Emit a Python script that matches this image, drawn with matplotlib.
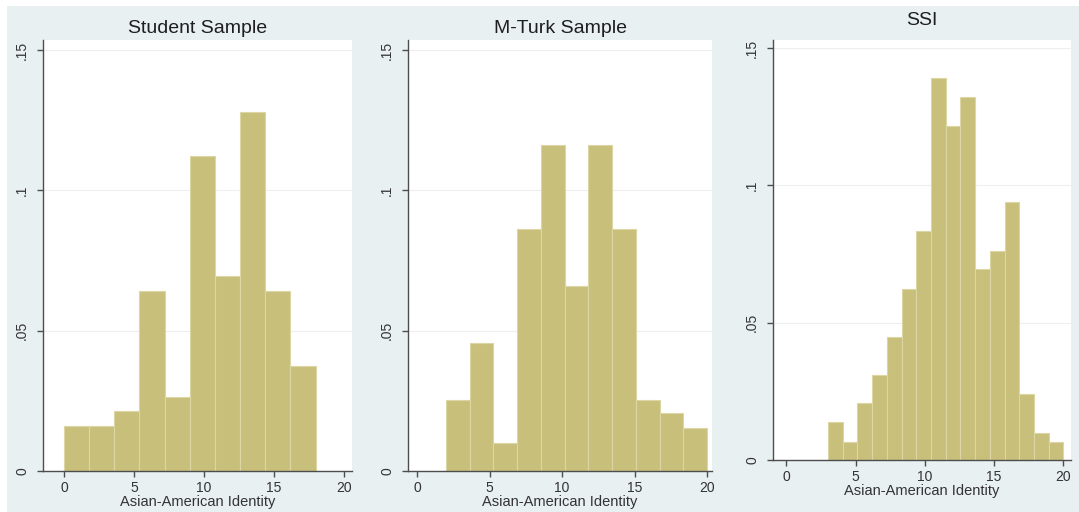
import numpy as np
import matplotlib
matplotlib.use("Agg")
import matplotlib.pyplot as plt
from matplotlib.patches import Rectangle

plt.rcParams['font.family'] = ['Liberation Sans', 'DejaVu Sans']

# histogram densities
student_start, student_width = 0.0, 1.8
student_density = [0.016, 0.016, 0.0215, 0.0643, 0.0265, 0.1124, 0.0695, 0.128, 0.0643, 0.0374]

mturk_start, mturk_width = 2.0, 18 / 11
mturk_density = [0.0253, 0.0457, 0.0101, 0.0861, 0.1162, 0.0659, 0.1162, 0.0861, 0.0253, 0.0205, 0.0154]

ssi_start, ssi_width = 3.0, 17 / 16
ssi_density = [0.0137, 0.0064, 0.0206, 0.031, 0.0449, 0.0623, 0.0836, 0.139, 0.1215,
               0.1324, 0.0695, 0.0763, 0.0939, 0.024, 0.010, 0.0064]

titles = ["Student Sample", "M-Turk Sample", "SSI"]
xlabel = "Asian-American Identity"
xticks = [0, 5, 10, 15, 20]
yticks = [0, 0.05, 0.1, 0.15]
yticklabels = ["0", ".05", ".1", ".15"]

BAR_COLOR = "#c8bf7b"
EDGE_COLOR = "#dcd6a4"
BG_COLOR = "#e9f0f2"
AXIS_COLOR = "#4d4d4d"

W, H = 1079, 512
fig = plt.figure(figsize=(W / 100, H / 100), dpi=100, facecolor="white")
fig.patches.append(Rectangle((7 / W, 0), 1 - 7 / W, 1 - 6 / H, transform=fig.transFigure,
                             facecolor=BG_COLOR, edgecolor="none", zorder=-10))


def px_axes(left, right, top, bottom):
    return fig.add_axes([left / W, 1 - bottom / H, (right - left) / W, (bottom - top) / H])


panels = [
    # (left, right, top, bottom) in pixels, xlim, ylim top, title pad
    ((43, 352, 40, 471), (-1.5, 20.6), 0.1536, 5),
    ((408, 712, 40, 471), (-0.62, 20.34), 0.1536, 5),
    ((773, 1071, 40, 460), (-0.97, 20.55), 0.153, 11),
]
series = [
    (student_start, student_width, student_density),
    (mturk_start, mturk_width, mturk_density),
    (ssi_start, ssi_width, ssi_density),
]

for (box, xlim, ytop, tpad), (start, width, dens), title in zip(panels, series, titles):
    ax = px_axes(*box)
    ax.set_facecolor("white")
    lefts = start + width * np.arange(len(dens))
    ax.bar(lefts, dens, width=width, align="edge", color=BAR_COLOR,
           edgecolor=EDGE_COLOR, linewidth=0.8, zorder=2)

    ax.set_xlim(*xlim)
    ax.set_ylim(0, ytop)
    ax.set_xticks(xticks)
    ax.set_yticks(yticks)
    ax.set_yticklabels(yticklabels, rotation=90, va="center")
    ax.yaxis.grid(True, color="#eeeef0", linewidth=0.8, zorder=0)
    ax.set_axisbelow(True)

    for side in ["top", "right"]:
        ax.spines[side].set_visible(False)
    for side in ["left", "bottom"]:
        ax.spines[side].set_color(AXIS_COLOR)
        ax.spines[side].set_linewidth(1.0)

    ax.tick_params(axis="both", direction="out", length=4, width=1, color=AXIS_COLOR,
                   labelsize=10, labelcolor="#333333", pad=3)
    ax.tick_params(axis="y", pad=6)

    ax.set_title(title, fontsize=14, color="#1e1e1e", pad=tpad)
    ax.set_xlabel(xlabel, fontsize=10.5, color="#333333", labelpad=0)

fig.savefig("out.png", dpi=100, facecolor=fig.get_facecolor())
